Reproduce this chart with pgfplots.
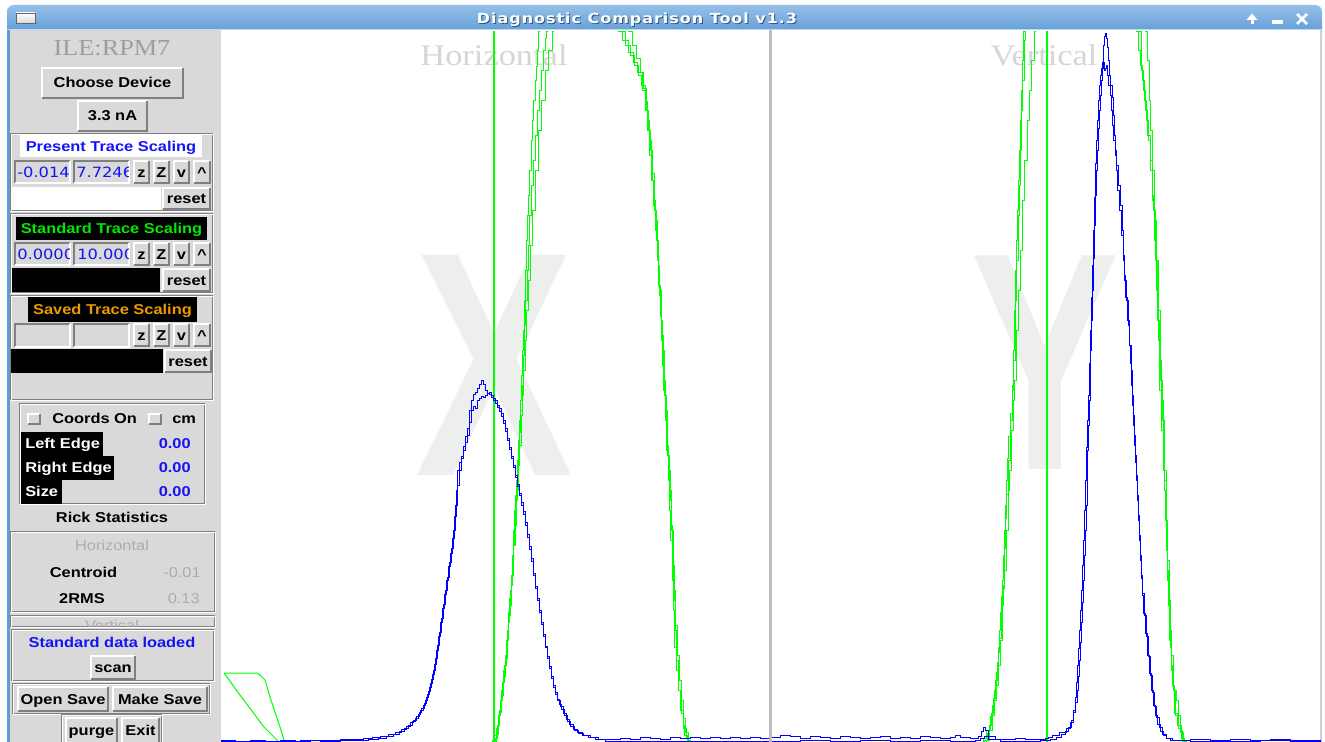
\documentclass[border=0pt]{standalone}
\usepackage{pgfplots}
\pgfplotsset{compat=1.18}
\usepackage{fontspec}
\usepackage{graphicx}
\setmainfont{Liberation Sans}
\newfontfamily\serif{Liberation Serif}
\newfontfamily\djv{DejaVu Sans}[LetterSpace=6]
\newfontfamily\djvent{DejaVu Sans}
\definecolor{panel}{RGB}{217,217,217}
\definecolor{dk}{RGB}{128,128,128}
\definecolor{tbtop}{RGB}{150,192,232}
\definecolor{tbbot}{RGB}{78,144,208}
\definecolor{frameblue}{RGB}{95,155,215}
\definecolor{sepc}{RGB}{190,190,190}
\definecolor{wm}{RGB}{236,239,236}
\definecolor{ttl}{RGB}{214,214,214}
\definecolor{ile}{RGB}{158,158,158}
\definecolor{tkblue}{RGB}{20,20,245}
\definecolor{tkgreen}{RGB}{0,235,0}
\definecolor{tkorange}{RGB}{235,155,0}
\definecolor{ltxt}{RGB}{172,172,172}
\definecolor{trblue}{RGB}{0,0,255}
\definecolor{trgreen}{RGB}{0,255,0}
\newcommand{\sq}[1]{\scalebox{1}[0.87]{#1}}
\newcommand{\wf}{\fontsize{12.3}{14}\selectfont}
\newcommand{\wb}{\fontsize{12.3}{14}\selectfont\bfseries}
\newcommand{\ef}{\djvent\fontsize{12.2}{14}\selectfont}
% raised button: x1 y1 x2 y2 text
\newcommand{\btn}[5]{%
  \fill[panel] (#1,#2) rectangle (#3,#4);
  \draw[white,line width=1.5pt] ({#1+1},{#4-1}) -- ({#1+1},{#2+1}) -- ({#3-1},{#2+1});
  \draw[dk,line width=1.5pt] ({#1+1},{#4-1}) -- ({#3-1},{#4-1}) -- ({#3-1},{#2+1});
  \node[anchor=base,inner sep=0pt,font=\wb] at ({(#1+#3)/2},{(#2+#4)/2+5}) {\sq{#5}};}
% sunken box
\newcommand{\sunk}[5]{%
  \fill[#5] (#1,#2) rectangle (#3,#4);
  \draw[dk,line width=1.5pt] ({#1+1},{#4-1}) -- ({#1+1},{#2+1}) -- ({#3-1},{#2+1});
  \draw[white,line width=1.5pt] ({#1+1},{#4-1}) -- ({#3-1},{#4-1}) -- ({#3-1},{#2+1});}
% groove frame
\newcommand{\groove}[4]{%
  \draw[dk,line width=0.75pt] ({#1+0.5},{#2+0.5}) rectangle ({#3-1.5},{#4-1.5});
  \draw[white,line width=0.75pt] ({#1+1.5},{#2+1.5}) rectangle ({#3-0.5},{#4-0.5});}
\newcommand{\zzvv}[1]{%
  \btn{133}{#1}{150}{#1+24}{z}\btn{153}{#1}{170}{#1+24}{Z}%
  \btn{173}{#1}{190}{#1+24}{v}\btn{193}{#1}{211}{#1+24}{\textasciicircum}}
\begin{document}
\begin{tikzpicture}[x=0.75pt,y=-0.75pt]
\useasboundingbox (0,0) rectangle (1325,742);
\fill[white] (0,0) rectangle (1325,742);
% title bar
\shade[top color=tbtop,bottom color=tbbot,rounded corners=5pt] (7,5) rectangle (1322,42);
\fill[frameblue] (7,30) rectangle (9.5,742);
\fill[panel] (9.5,30) rectangle (220.5,742);
\fill[white] (220.5,30) rectangle (1320,742);
\fill[sepc!70!white] (1320,30) rectangle (1322,742);
\fill[sepc] (769,30) rectangle (772,742);
\draw[tbtop!60!white,line width=0.75pt] (7,30) -- (1322,30);
\shade[top color=white,bottom color=panel,draw=dk!80!black] (16,13) rectangle (35,23);
\node[anchor=base,inner sep=0pt,text=tbbot!60!black,font=\djv\bfseries\fontsize{12}{14}\selectfont] at (638,25) {\sq{Diagnostic Comparison Tool v1.3}};
\node[anchor=base,inner sep=0pt,text=white,font=\djv\bfseries\fontsize{12}{14}\selectfont] at (637,24) {\sq{Diagnostic Comparison Tool v1.3}};
% window buttons
\fill[white] (1246.5,20) -- (1252,13.5) -- (1257.5,20) -- cycle;
\fill[white] (1250.5,19) rectangle (1253.5,24.5);
\fill[white] (1272,20.5) rectangle (1283,24);
\draw[white,line width=1.9pt] (1297,14) -- (1307,24) (1297,24) -- (1307,14);
% watermark letters and titles
\node[anchor=base,inner sep=0pt,text=wm,font=\fontsize{240}{240}\selectfont\bfseries] at (494,475) {\scalebox{0.74}[1]{X}};
\node[anchor=base,inner sep=0pt,text=wm,font=\fontsize{233}{233}\selectfont\bfseries] at (1045.5,469) {\scalebox{0.72}[1]{Y}};
\node[anchor=base,inner sep=0pt,text=ttl,font=\serif\fontsize{25.8}{30}\selectfont] at (494,66) {\sq{Horizontal}};
\node[anchor=base,inner sep=0pt,text=ttl,font=\serif\fontsize{25.8}{30}\selectfont] at (1044,66) {\sq{Vertical}};
% ---------------- Horizontal plot
\begin{axis}[at={(165.75pt,-23.25pt)},anchor=north west,scale only axis,
  width=411pt,height=533.25pt,xmin=221,xmax=769,ymin=31,ymax=742,
  y dir=reverse,hide axis,clip=true]
\addplot[draw=trgreen,line width=1.8pt] coordinates {(494,0) (494,800)};
\addplot[draw=trgreen,line width=0.75pt] coordinates {(224,673)(257,673)(261,676)(265,680)(270,697)(275,712)(280,727)(284,740)(286,743)};
\addplot[draw=trgreen,line width=0.75pt] coordinates {(224,673)(227,677)(230,681)(234,687)(240,695)(246,703)(252,711)(258,719)(264,727)(270,733)(277,740)(279,743)};
\addplot[const plot,draw=trgreen,line width=0.75pt] coordinates {(286,743)(488,743)(492,740)(494,735)(496,728)(498,715)(500,700)(502,682)(504,665)(506,650)(507,630)(508,612)(509,598)(510,590)(511,580)(512,555)(513,530)(514,510)(515,495)(516,480)(517,460)(518,440)(519,420)(520,400)(521,375)(522,350)(523,330)(524,300)(525,270)(526,240)(527,215)(528,195)(529,170)(531,140)(532,120)(533,100)(535,80)(536,66)(537,50)(538,31)(539,-50)(618,-50)(620,31)(625,45)(630,55)(634,65)(638,75)(641,85)(645,101)(647,120)(649,140)(651,160)(652,173)(654,200)(655,220)(657,244)(658,270)(659,295)(660,316)(661,340)(662,365)(663,390)(665,420)(666,450)(668,480)(669,510)(670,540)(672,580)(673,610)(674,647)(676,670)(678,690)(681,713)(683,725)(684,735)(687,740)(689,743)(769,743)};
\addplot[const plot,draw=trgreen,line width=0.75pt] coordinates {(279,743)(490,743)(494,742)(496,734)(498,722)(499,712)(501,695)(503,676)(505,658)(507,640)(508,622)(509,605)(511,585)(512,565)(513,545)(514,525)(516,500)(517,475)(518,455)(519,432)(520,410)(522,385)(523,355)(524,325)(525,300)(527,270)(528,245)(529,215)(531,185)(533,160)(535,135)(537,110)(539,90)(541,70)(543,50)(545,38)(546,31)(547,-50)(626,-50)(628,31)(632,45)(636,58)(640,72)(643,88)(646,110)(648,130)(650,150)(652,180)(654,210)(656,240)(658,265)(659,290)(661,320)(662,350)(664,380)(665,410)(667,445)(668,470)(670,500)(671,530)(673,565)(674,600)(675,630)(676,660)(678,690)(680,710)(683,728)(686,738)(688,743)(769,743)};
\addplot[const plot,draw=trgreen,line width=0.75pt] coordinates {(221,743)(491,743)(495,738)(497,725)(499,710)(501,690)(503,670)(505,655)(506,640)(508,615)(510,595)(511,575)(513,545)(515,510)(516,490)(518,465)(519,445)(521,415)(522,395)(523,370)(525,340)(526,310)(528,280)(530,245)(532,210)(535,170)(538,130)(541,100)(545,70)(548,50)(552,31)(553,-50)(616,-50)(618,31)(622,40)(628,52)(633,62)(637,72)(642,90)(645,110)(647,130)(649,155)(651,180)(653,205)(655,230)(657,260)(658,285)(660,310)(661,335)(663,365)(664,395)(666,425)(667,455)(669,490)(671,525)(672,560)(673,590)(675,625)(677,655)(679,680)(681,700)(683,718)(685,732)(688,740)(690,743)(769,743)};
\addplot[const plot,draw=trblue,line width=0.7pt] coordinates {(221,741)(240,741)(260,741)(280,741)(300,740)(320,741)(340,740)(355,740)(368,739)(378,738)(386,736)(393,734)(399,731)(404,728)(408,725)(412,721)(415,718)(418,714)(420,710)(423,705)(425,700)(427,694)(429,687)(431,679)(433,670)(435,658)(437,645)(439,632)(441,618)(443,604)(445,590)(447,577)(449,562)(451,548)(453,530)(455,505)(457,485)(459,470)(461,458)(463,450)(465,442)(467,435)(469,422)(471,410)(473,406)(475,408)(477,400)(479,398)(481,396)(483,397)(485,395)(487,393)(489,394)(491,397)(493,400)(495,403)(497,407)(499,411)(501,416)(503,423)(505,431)(507,440)(509,449)(511,458)(513,467)(515,477)(517,486)(519,495)(521,505)(523,514)(525,525)(527,537)(529,549)(531,561)(533,575)(535,588)(537,600)(539,612)(541,624)(543,636)(545,647)(547,658)(549,668)(551,678)(553,687)(555,694)(557,700)(560,706)(563,713)(566,719)(569,724)(573,729)(577,732)(582,735)(588,737)(595,739)(605,741)(620,741)(640,741)(660,741)(680,741)(700,741)(720,741)(740,741)(769,741)};
\addplot[const plot,draw=trblue,line width=0.7pt] coordinates {(221,740)(235,741)(250,740)(265,741)(280,740)(295,741)(310,740)(325,740)(340,739)(352,739)(363,738)(372,737)(380,736)(388,734)(395,732)(401,729)(406,726)(410,722)(413,720)(416,716)(419,712)(421,708)(424,703)(426,697)(428,691)(430,683)(432,674)(434,664)(436,650)(438,636)(440,622)(442,608)(444,594)(446,580)(448,566)(450,553)(452,538)(454,516)(456,490)(457,470)(459,462)(461,456)(463,446)(465,436)(467,428)(469,410)(471,400)(473,394)(475,392)(477,388)(479,384)(481,380)(483,384)(485,390)(487,393)(489,392)(491,395)(493,398)(495,400)(497,405)(499,408)(501,413)(503,420)(505,428)(507,438)(509,447)(511,456)(513,465)(515,475)(517,484)(519,493)(521,502)(523,511)(525,522)(527,534)(529,546)(531,558)(533,573)(535,586)(537,598)(539,610)(541,622)(543,634)(545,646)(547,656)(549,666)(551,676)(553,685)(555,692)(557,699)(559,704)(561,709)(564,715)(567,721)(570,726)(574,730)(578,733)(583,735)(590,737)(598,739)(610,739)(620,738)(630,739)(640,737)(650,738)(660,739)(670,737)(680,738)(690,737)(700,738)(710,737)(720,738)(730,737)(740,738)(750,737)(760,738)(769,737)};
\end{axis}
% ---------------- Vertical plot
\begin{axis}[at={(579pt,-23.25pt)},anchor=north west,scale only axis,
  width=411.75pt,height=533.25pt,xmin=772,xmax=1321,ymin=31,ymax=742,
  y dir=reverse,hide axis,clip=true]
\addplot[draw=trgreen,line width=1.8pt] coordinates {(1047,0) (1047,800)};
\addplot[const plot,draw=trgreen,line width=0.75pt] coordinates {(772,743)(980,743)(984,740)(987,733)(989,725)(991,713)(993,698)(995,680)(997,662)(998,647)(999,630)(1000,612)(1001,596)(1002,580)(1003,555)(1004,530)(1005,505)(1006,480)(1007,458)(1008,436)(1010,413)(1012,390)(1013,350)(1014,310)(1015,270)(1016,240)(1017,210)(1018,180)(1019,150)(1020,120)(1021,90)(1022,60)(1023,31)(1024,-50)(1134,-50)(1136,31)(1138,50)(1140,65)(1142,80)(1144,100)(1146,120)(1148,140)(1150,170)(1152,195)(1153,210)(1155,260)(1157,320)(1159,390)(1161,430)(1163,470)(1164,490)(1165,520)(1166,550)(1167,580)(1168,605)(1169,625)(1170,647)(1171,665)(1172,685)(1174,713)(1177,725)(1181,738)(1184,743)(1321,743)};
\addplot[const plot,draw=trgreen,line width=0.75pt] coordinates {(772,743)(982,743)(986,740)(989,730)(992,715)(994,700)(996,685)(998,665)(1000,640)(1002,605)(1003,585)(1004,570)(1006,530)(1008,490)(1009,470)(1011,430)(1013,400)(1014,380)(1016,330)(1018,290)(1020,250)(1022,200)(1024,160)(1027,120)(1029,90)(1031,60)(1034,31)(1035,-50)(1143,-50)(1145,31)(1147,60)(1149,100)(1150,130)(1152,170)(1154,220)(1156,260)(1158,310)(1160,360)(1161,400)(1163,450)(1164,480)(1166,540)(1167,570)(1168,600)(1169,640)(1171,670)(1173,690)(1176,700)(1178,715)(1180,730)(1182,741)(1185,743)(1321,743)};
\addplot[const plot,draw=trgreen,line width=0.75pt] coordinates {(772,743)(978,743)(983,738)(986,730)(990,716)(992,705)(994,690)(996,672)(998,652)(999,638)(1001,604)(1002,588)(1004,548)(1005,518)(1006,494)(1008,460)(1010,420)(1012,385)(1013,360)(1015,300)(1016,260)(1018,215)(1019,185)(1020,150)(1021,110)(1022,80)(1024,40)(1025,-50)(1138,-50)(1139,31)(1141,70)(1143,90)(1145,110)(1147,135)(1150,160)(1152,200)(1154,240)(1156,290)(1158,340)(1160,380)(1162,420)(1164,470)(1166,520)(1167,560)(1169,600)(1170,630)(1171,655)(1173,690)(1175,715)(1178,728)(1180,732)(1183,740)(1186,743)(1321,743)};
\addplot[const plot,draw=trblue,line width=0.7pt] coordinates {(772,741)(800,740)(830,741)(860,740)(890,741)(920,740)(950,741)(975,740)(980,738)(984,736)(988,739)(1000,741)(1020,741)(1040,740)(1050,739)(1056,737)(1061,734)(1065,731)(1068,727)(1071,720)(1073,712)(1075,702)(1077,690)(1078,676)(1079,660)(1080,642)(1081,622)(1082,602)(1083,580)(1084,555)(1085,530)(1086,505)(1087,475)(1087,450)(1088,425)(1089,400)(1090,375)(1090,350)(1091,320)(1092,290)(1093,258)(1094,225)(1095,195)(1096,170)(1097,150)(1098,128)(1099,110)(1100,95)(1101,80)(1102,68)(1103,62)(1104,70)(1105,68)(1106,65)(1107,75)(1108,85)(1110,95)(1111,110)(1112,125)(1113,140)(1115,155)(1116,170)(1117,190)(1119,210)(1121,235)(1123,260)(1124,280)(1126,300)(1128,325)(1129,345)(1131,370)(1132,395)(1133,415)(1134,435)(1135,455)(1136,475)(1137,495)(1138,515)(1139,535)(1140,555)(1141,575)(1142,593)(1144,615)(1146,636)(1148,656)(1150,675)(1152,692)(1154,706)(1156,717)(1159,727)(1162,734)(1166,738)(1170,740)(1190,741)(1220,741)(1260,740)(1290,741)(1321,741)};
\addplot[const plot,draw=trblue,line width=0.7pt] coordinates {(772,737)(780,735)(790,736)(800,738)(810,736)(820,737)(830,738)(840,736)(850,737)(860,738)(870,737)(880,736)(890,738)(900,737)(910,738)(920,736)(930,737)(940,738)(950,737)(955,735)(960,737)(970,738)(978,736)(981,731)(983,727)(985,730)(988,736)(995,739)(1005,739)(1015,738)(1025,739)(1035,739)(1045,738)(1048,737)(1052,735)(1059,732)(1066,728)(1070,722)(1073,710)(1075,697)(1076,682)(1077,665)(1078,648)(1079,630)(1080,610)(1081,590)(1082,565)(1083,540)(1084,510)(1085,480)(1086,447)(1087,420)(1088,395)(1089,363)(1090,330)(1091,297)(1092,265)(1093,230)(1094,197)(1095,163)(1096,140)(1097,120)(1098,100)(1099,85)(1100,75)(1101,68)(1102,62)(1103,45)(1104,36)(1105,33)(1106,38)(1107,47)(1108,60)(1109,75)(1110,85)(1112,97)(1113,115)(1114,135)(1115,150)(1116,165)(1118,185)(1120,205)(1122,230)(1123,255)(1124,275)(1125,297)(1127,320)(1129,345)(1130,363)(1131,385)(1132,405)(1133,425)(1134,445)(1135,462)(1136,480)(1137,500)(1138,520)(1139,540)(1140,560)(1141,578)(1142,595)(1143,613)(1145,633)(1147,655)(1149,673)(1151,690)(1153,705)(1155,715)(1157,724)(1160,731)(1163,735)(1166,738)(1172,740)(1190,739)(1210,740)(1230,739)(1250,740)(1270,739)(1290,740)(1321,739)};
\end{axis}
% ---------------- left panel widgets
\node[anchor=base,inner sep=0pt,text=ile,font=\serif\fontsize{19.7}{22}\selectfont] at (112,56) {\sq{ILE:RPM7}};
\btn{41}{67}{184}{99}{Choose Device}
\btn{77}{100}{148}{132}{3.3 nA}
% frame 1
\groove{10}{133}{214}{212}
\fill[white] (20,135) rectangle (202,157);
\node[anchor=base,inner sep=0pt,font=\wb,text=tkblue] at (111,151.5) {\sq{Present Trace Scaling}};
\sunk{14}{160}{71}{184}{panel}
\sunk{73}{160}{130}{184}{panel}
\begin{scope}\clip (16,162) rectangle (69,182);
\node[anchor=base west,inner sep=0pt,font=\ef,text=tkblue] at (17,177) {\sq{-0.0146}};\end{scope}
\begin{scope}\clip (75,162) rectangle (128,182);
\node[anchor=base west,inner sep=0pt,font=\ef,text=tkblue] at (76,177) {\sq{7.72463}};\end{scope}
\zzvv{160}
\fill[white] (12,187) rectangle (161,210);
\btn{162}{187}{211}{210}{reset}
% frame 2
\groove{10}{213}{214}{294}
\fill[black] (16,217) rectangle (207,240);
\node[anchor=base,inner sep=0pt,font=\wb,text=tkgreen] at (111.5,233.5) {\sq{Standard Trace Scaling}};
\sunk{14}{242}{71}{266}{panel}
\sunk{73}{242}{130}{266}{panel}
\begin{scope}\clip (16,244) rectangle (69,264);
\node[anchor=base west,inner sep=0pt,font=\ef,text=tkblue] at (17,259.5) {\sq{0.00000}};\end{scope}
\begin{scope}\clip (75,244) rectangle (128,264);
\node[anchor=base west,inner sep=0pt,font=\ef,text=tkblue] at (77,259.5) {\sq{10.0000}};\end{scope}
\zzvv{242}
\fill[black] (12,268) rectangle (160,292);
\btn{162}{268}{211}{292}{reset}
% frame 3
\groove{10}{295}{214}{401}
\fill[black] (28,297) rectangle (197,322);
\node[anchor=base,inner sep=0pt,font=\wb,text=tkorange] at (112.5,314.5) {\sq{Saved Trace Scaling}};
\sunk{14}{323}{71}{348}{panel}
\sunk{73}{323}{130}{348}{panel}
\zzvv{323}
\fill[black] (11,349) rectangle (163,373);
\btn{164}{349}{212}{373}{reset}
% coords frame
\groove{19}{403}{206}{505}
\btn{27}{413}{41}{425}{}
\node[anchor=base west,inner sep=0pt,font=\wb] at (52,423) {\sq{Coords On}};
\btn{148}{413}{162}{425}{}
\node[anchor=base west,inner sep=0pt,font=\wb] at (172,423) {\sq{cm}};
\fill[black] (21,432) rectangle (103,456);
\fill[black] (21,456) rectangle (114,480);
\fill[black] (21,480) rectangle (62,504);
\node[anchor=base west,inner sep=0pt,font=\wb,text=white] at (25,448) {\sq{Left Edge}};
\node[anchor=base west,inner sep=0pt,font=\wb,text=white] at (25,472) {\sq{Right Edge}};
\node[anchor=base west,inner sep=0pt,font=\wb,text=white] at (25,496) {\sq{Size}};
\node[anchor=base east,inner sep=0pt,font=\wb,text=tkblue] at (191,448) {\sq{0.00}};
\node[anchor=base east,inner sep=0pt,font=\wb,text=tkblue] at (191,472) {\sq{0.00}};
\node[anchor=base east,inner sep=0pt,font=\wb,text=tkblue] at (191,496) {\sq{0.00}};
\node[anchor=base,inner sep=0pt,font=\wb] at (112,522) {\sq{Rick Statistics}};
% stats frame
\groove{10}{531}{216}{613}
\node[anchor=base,inner sep=0pt,font=\wf,text=ltxt] at (112,550) {\sq{Horizontal}};
\node[anchor=base,inner sep=0pt,font=\wb] at (83.5,577) {\sq{Centroid}};
\node[anchor=base east,inner sep=0pt,font=\wf,text=ltxt] at (201,577) {\sq{-0.01}};
\node[anchor=base,inner sep=0pt,font=\wb] at (82,603) {\sq{2RMS}};
\node[anchor=base east,inner sep=0pt,font=\wf,text=ltxt] at (200,603) {\sq{0.13}};
\groove{10}{615}{216}{628}
\begin{scope}\clip (12,617) rectangle (214,626.5);
\node[anchor=base,inner sep=0pt,font=\wf,text=ltxt] at (112,630.5) {\sq{Vertical}};\end{scope}
% standard data frame
\groove{11}{629}{215}{682}
\node[anchor=base,inner sep=0pt,font=\wb,text=tkblue] at (112,647) {\sq{Standard data loaded}};
\btn{90}{655}{136}{680}{scan}
\groove{12}{683}{211}{715}
\btn{17}{686}{109}{712}{Open Save}
\btn{112}{686}{208}{712}{Make Save}
\groove{61}{714}{163}{746}
\btn{65}{717}{118}{744}{purge}
\btn{121}{717}{160}{744}{Exit}
\end{tikzpicture}
\end{document}
